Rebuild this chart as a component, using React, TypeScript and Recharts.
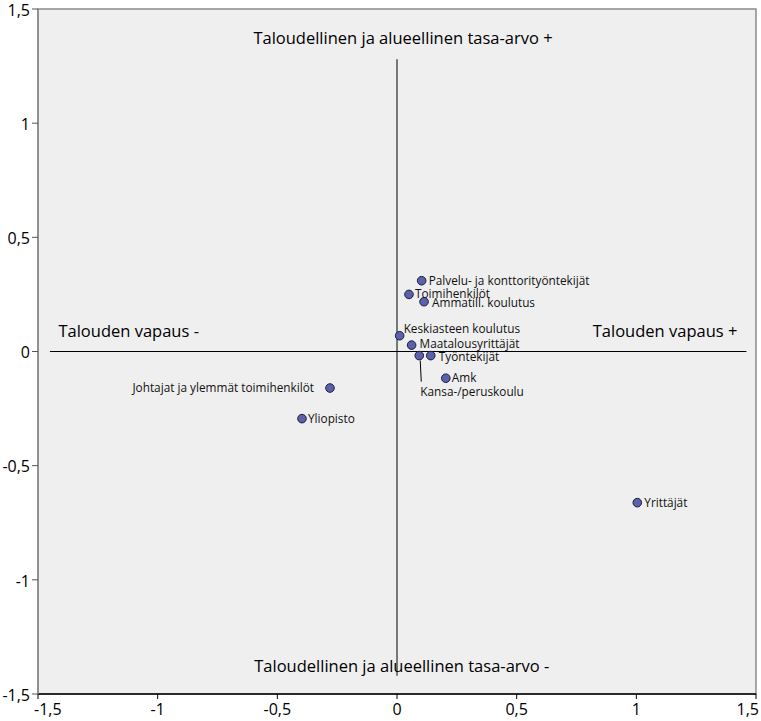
import React from "react";
import {
  ReferenceArea,
  ReferenceDot,
  ReferenceLine,
  Scatter,
  ScatterChart,
  XAxis,
  YAxis,
} from "recharts";

const groupNames = [
  "Palvelu- ja konttorityöntekijät",
  "Toimihenkilöt",
  "Ammatill. koulutus",
  "Keskiasteen koulutus",
  "Maatalousyrittäjät",
  "Kansa-/peruskoulu",
  "Työntekijät",
  "Amk",
  "Johtajat ja ylemmät toimihenkilöt",
  "Yliopisto",
  "Yrittäjät",
];
const xValues = [0.103, 0.05, 0.113, 0.011, 0.061, 0.093, 0.141, 0.204, -0.28, -0.397, 1.004];
const yValues = [0.31, 0.25, 0.218, 0.069, 0.028, -0.018, -0.018, -0.117, -0.16, -0.294, -0.662];

const axisTicks = [-1.5, -1, -0.5, 0, 0.5, 1, 1.5];

const quadrantLabels = [
  "Taloudellinen ja alueellinen tasa-arvo +",
  "Talouden vapaus -",
  "Talouden vapaus +",
  "Taloudellinen ja alueellinen tasa-arvo -",
];
const quadrantX = [0.025, -1.121, 1.12, 0.02];
const quadrantY = [1.373, 0.087, 0.087, -1.378];

const points = groupNames.map((name, i) => ({ name, x: xValues[i], y: yValues[i] }));

// label placement per point: dx, dy (px) and anchor
const placement: Record<string, { dx: number; dy: number; anchor?: "start" | "end"; leader?: boolean }> = {
  "Palvelu- ja konttorityöntekijät": { dx: 7, dy: 0 },
  "Toimihenkilöt": { dx: 6, dy: -1 },
  "Ammatill. koulutus": { dx: 8, dy: 1 },
  "Keskiasteen koulutus": { dx: 4, dy: -7 },
  "Maatalousyrittäjät": { dx: 8, dy: -1 },
  "Kansa-/peruskoulu": { dx: 1, dy: 36, leader: true },
  "Työntekijät": { dx: 8, dy: 1 },
  "Amk": { dx: 6, dy: 0 },
  "Johtajat ja ylemmät toimihenkilöt": { dx: -16, dy: 0, anchor: "end" },
  "Yliopisto": { dx: 6, dy: 0 },
  "Yrittäjät": { dx: 7, dy: 0 },
};

const FONT = "'Open Sans', 'Noto Sans', sans-serif";
const fmt = (v: number) => String(v).replace(".", ",");

function PointShape(props: any) {
  const { cx, cy, payload } = props;
  const p = placement[payload.name] ?? { dx: 7, dy: 0 };
  return (
    <g>
      {p.leader && (
        <line x1={cx + 1} y1={cy + 5} x2={cx + 2} y2={cy + p.dy - 10} stroke="#000" strokeWidth={1} />
      )}
      <circle cx={cx} cy={cy} r={4.3} fill="#5b62ab" stroke="#1c1c3c" strokeWidth={1} />
      <text
        x={cx + p.dx}
        y={cy + p.dy}
        dy="0.35em"
        textAnchor={p.anchor ?? "start"}
        fontSize={11.8}
        fontFamily={FONT}
        fill="#111"
      >
        {payload.name}
      </text>
    </g>
  );
}

// keeps the end labels inside the picture, like the original
function XTick(props: any) {
  const { x, y, payload } = props;
  const v = payload.value;
  let anchor: "start" | "middle" | "end" = "middle";
  let shift = 0;
  if (v === axisTicks[0]) {
    anchor = "start";
    shift = -4;
  } else if (v === axisTicks[axisTicks.length - 1]) {
    anchor = "end";
    shift = 3;
  }
  return (
    <text x={x + shift} y={y + 3} dy="0.71em" textAnchor={anchor} fontSize={16} fontFamily={FONT} fill="#000">
      {fmt(v)}
    </text>
  );
}

export default function App() {
  return (
    <div style={{ position: "absolute", left: 0, top: 0, background: "#fff" }}>
      <ScatterChart width={761} height={721} margin={{ top: 9, right: 5, left: 0, bottom: 0 }}>
        <ReferenceArea
          x1={-1.5}
          x2={1.5}
          y1={-1.5}
          y2={1.5}
          fill="#efefef"
          fillOpacity={1}
          stroke="#8a8a8a"
          strokeWidth={1.5}
        />
        <XAxis
          type="number"
          dataKey="x"
          domain={[-1.5, 1.5]}
          ticks={axisTicks}
          height={27}
          tickSize={5}
          axisLine={{ stroke: "#000", strokeWidth: 1.5 }}
          tickLine={{ stroke: "#000" }}
          tick={<XTick />}
          interval={0}
        />
        <YAxis
          type="number"
          dataKey="y"
          domain={[-1.5, 1.5]}
          ticks={axisTicks}
          tickFormatter={fmt}
          width={38}
          tickSize={6}
          axisLine={{ stroke: "#8a8a8a", strokeWidth: 1.5 }}
          tickLine={{ stroke: "#555" }}
          tick={{ fill: "#000", fontSize: 16, fontFamily: FONT, dy: 1 }}
          tickMargin={2}
          interval={0}
        />
        <ReferenceLine
          segment={[{ x: 0, y: 1.28 }, { x: 0, y: -1.42 }]}
          stroke="#000"
          strokeWidth={1}
        />
        <ReferenceLine
          segment={[{ x: -1.45, y: 0 }, { x: 1.46, y: 0 }]}
          stroke="#000"
          strokeWidth={1}
        />
        {quadrantLabels.map((t, i) => (
          <ReferenceDot
            key={t}
            x={quadrantX[i]}
            y={quadrantY[i]}
            r={0}
            stroke="none"
            fill="none"
            label={{ value: t, position: "center", fontSize: 16.5, fontFamily: FONT, fill: "#000" }}
          />
        ))}
        <Scatter data={points} shape={<PointShape />} isAnimationActive={false} />
      </ScatterChart>
    </div>
  );
}
